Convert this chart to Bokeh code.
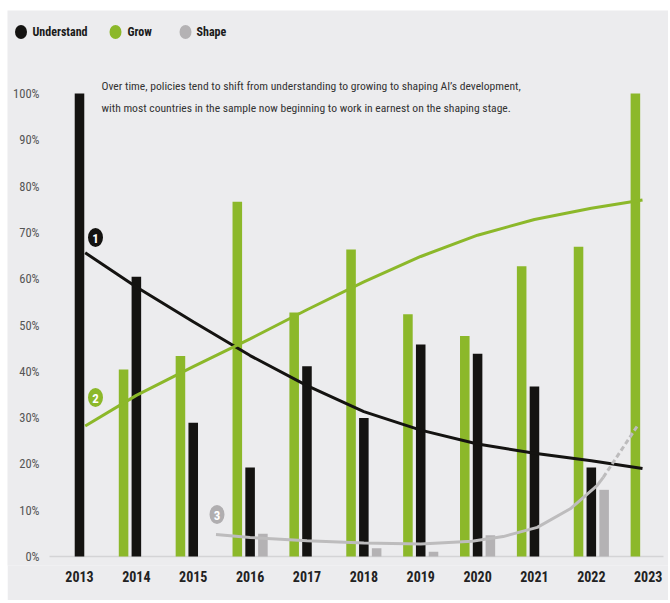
from bokeh.plotting import figure
from bokeh.models import Range1d, FixedTicker, ColumnDataSource
from bokeh.core.properties import value
from bokeh.embed import file_html
from bokeh.resources import INLINE

# ---------------- data ----------------
years = [2013, 2014, 2015, 2016, 2017, 2018, 2019, 2020, 2021, 2022, 2023]
understand = [100, 60.4, 28.9, 19.2, 41.1, 29.9, 45.8, 43.8, 36.7, 19.2, 0]
grow = [0, 40.4, 43.3, 76.6, 52.7, 66.3, 52.3, 47.6, 62.7, 66.9, 100]
shape = [0, 0, 0, 4.9, 0, 1.8, 1.0, 4.6, 0, 14.4, 0]

trend_years = [2013.1, 2014, 2015, 2016, 2017, 2018, 2019, 2020, 2021, 2022, 2022.9]
understand_trend = [65.6, 58.2, 50.7, 43.4, 36.9, 31.3, 27.3, 24.3, 22.3, 20.7, 19.0]
grow_trend = [28.2, 34.8, 41.0, 47.0, 53.3, 59.3, 64.8, 69.4, 72.8, 75.2, 77.0]

shape_trend_years = [2015.4, 2016, 2017, 2018, 2019, 2019.9, 2020.45, 2021.05, 2021.63, 2022.1, 2022.21]
shape_trend = [4.75, 4.1, 3.4, 2.9, 2.7, 3.3, 4.3, 6.3, 10.3, 15.3, 17.1]
shape_proj_years = [2022.21, 2022.81]
shape_proj = [17.1, 28.2]

series_names = ["Understand", "Grow", "Shape"]
y_ticks = [0, 10, 20, 30, 40, 50, 60, 70, 80, 90, 100]
y_tick_labels = ["0%", "10%", "20%", "30%", "40%", "50%", "60%", "70%", "80%", "90%", "100%"]
note_lines = [
    "Over time, policies tend to shift from understanding to growing to shaping AI\u2019s development,",
    "with most countries in the sample now beginning to work in earnest on the shaping stage.",
]

# ---------------- style ----------------
BG = "#ececee"
BLACK = "#141311"
GREEN = "#8cb82a"
GRAY = "#b4b2b4"
GRAY_LINE = "#bdbcbd"
NARROW = ("'Noto Sans ExtraCondensed', 'Noto Sans Condensed', 'Liberation Sans Narrow', "
          "'Roboto Condensed', 'DejaVu Sans Condensed', sans-serif")

OFF = 0.225
BW = 0.168

p = figure(width=661, height=590, margin=(10, 2, 3, 7),
           x_range=Range1d(2011.734, 2023.357), y_range=Range1d(-1.944, 117.93),
           y_axis_location=None, output_backend="svg", toolbar_location=None,
           min_border_left=0, min_border_right=0, min_border_top=0, min_border_bottom=35)
# pixel ranges for decorations (page pixel coordinates)
p.extra_x_ranges = {"px": Range1d(7, 668)}
p.extra_y_ranges = {"px": Range1d(565, 10)}

p.background_fill_color = BG
p.border_fill_color = BG
p.outline_line_color = None
p.xgrid.visible = False
p.ygrid.visible = False

ax = p.xaxis[0]
ax.ticker = FixedTicker(ticks=years)
ax.major_label_overrides = {y: str(y) for y in years}
ax.axis_line_color = None
ax.major_tick_line_color = None
ax.minor_tick_line_color = None
ax.major_tick_in = 0
ax.major_tick_out = 0
ax.major_label_standoff = 5
ax.major_label_text_font = NARROW
ax.major_label_text_font_style = "bold"
ax.major_label_text_font_size = "14px"
ax.major_label_text_color = "#222222"

# baseline
p.segment(x0=[49], y0=[556], x1=[663], y1=[556], x_range_name="px", y_range_name="px",
          line_color="#d4d4d6", line_width=1.5)

src = ColumnDataSource(dict(
    year=years, understand=understand, grow=grow, shape=shape,
    xg=[y - OFF for y in years], xs=[y + OFF for y in years],
))
p.vbar(x="xg", top="grow", width=BW, source=src, fill_color=GREEN, line_color=None)
p.vbar(x="year", top="understand", width=BW, source=src, fill_color=BLACK, line_color=None)
p.vbar(x="xs", top="shape", width=BW, source=src, fill_color=GRAY, line_color=None)

# trend lines
p.line(trend_years, understand_trend, line_color=BLACK, line_width=3)
p.line(trend_years, grow_trend, line_color=GREEN, line_width=3)
p.line(shape_trend_years, shape_trend, line_color=GRAY_LINE, line_width=3)
p.line(shape_proj_years, shape_proj, line_color=GRAY_LINE, line_width=3, line_dash="5 3")

# numbered markers
p.ellipse(x=[95, 95, 216.5], y=[237, 397, 514], width=15, height=19,
          width_units="screen", height_units="screen",
          fill_color=[BLACK, GREEN, "#b0aeb0"], line_color=None,
          x_range_name="px", y_range_name="px")
p.text(x=[95, 95, 216.5], y=[237.5, 397.5, 514.5], text=["1", "2", "3"],
       text_color="white", text_align="center", text_baseline="middle",
       text_font=value(NARROW), text_font_size="13px", text_font_style="bold",
       x_range_name="px", y_range_name="px")

# legend
p.ellipse(x=[20.5, 115, 185], y=[31.5, 31.5, 31.5], width=12, height=14,
          width_units="screen", height_units="screen",
          fill_color=[BLACK, GREEN, GRAY], line_color=None,
          x_range_name="px", y_range_name="px")
p.text(x=[32, 127, 196], y=[31.5, 31.5, 31.5], text=series_names,
       text_color="#1a1a1a", text_align="left", text_baseline="middle",
       text_font=value(NARROW), text_font_size="12px", text_font_style="bold",
       x_range_name="px", y_range_name="px")

# y tick labels
p.text(x=[39] * len(y_ticks), y=y_ticks, text=y_tick_labels,
       text_color="#555555", text_align="right", text_baseline="middle",
       text_font=value(NARROW), text_font_size="12.5px",
       x_range_name="px")

# note
p.text(x=[101, 101], y=[85, 107], text=note_lines,
       text_color="#333333", text_align="left", text_baseline="middle",
       text_font=value(NARROW), text_font_size="11.6px",
       x_range_name="px", y_range_name="px")

open("out.html", "w").write(file_html(p, INLINE))
